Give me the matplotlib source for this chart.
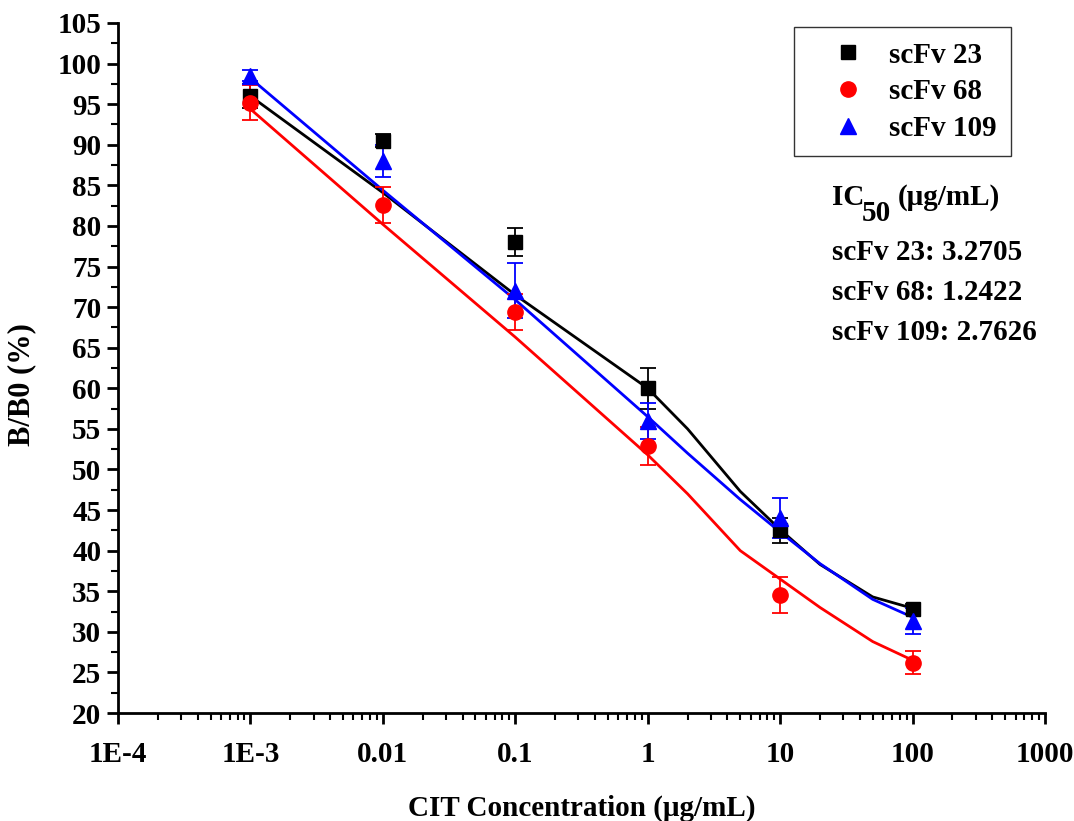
import numpy as np
import matplotlib
matplotlib.use("Agg")
import matplotlib.pyplot as plt
from matplotlib.ticker import FixedLocator, MultipleLocator, LogLocator, NullFormatter

plt.rcParams['font.family'] = ['Liberation Serif', 'DejaVu Serif']
plt.rcParams['font.weight'] = 'bold'

# measured points
conc = [1e-3, 1e-2, 1e-1, 1, 10, 100]
mean_23 = [96.0, 90.5, 78.0, 60.0, 42.5, 32.8]
err_23 = [1.5, 0.8, 1.7, 2.5, 1.5, 0.6]
mean_68 = [95.2, 82.6, 69.4, 52.9, 34.5, 26.2]
err_68 = [2.2, 2.2, 2.2, 2.3, 2.2, 1.4]
mean_109 = [98.5, 88.0, 72.0, 56.0, 44.0, 31.3]
err_109 = [0.7, 2.0, 3.4, 2.2, 2.5, 1.6]

# fitted curves
fit_x = [1e-3, 1e-2, 1e-1, 1, 2, 5, 10, 20, 50, 100]
fit_23 = [96.0, 84.1, 71.5, 60.0, 55.0, 47.3, 42.6, 38.3, 34.3, 32.9]
fit_68 = [94.4, 80.2, 66.3, 51.8, 47.0, 40.0, 36.5, 33.0, 28.8, 26.5]
fit_109 = [98.2, 84.4, 70.9, 56.5, 52.0, 46.3, 42.3, 38.4, 34.0, 31.8]

labels = ['scFv 23', 'scFv 68', 'scFv 109']
colors = ['black', 'red', 'blue']
markers = ['s', 'o', '^']
msizes = [10, 11, 12]
ic50 = ['3.2705', '1.2422', '2.7626']

fig = plt.figure(figsize=(10.74, 8.21), dpi=100)
ax = fig.add_axes([118/1074, 1-713/821, (1045-118)/1074, (713-23)/821])

series = [(mean_23, err_23, fit_23), (mean_68, err_68, fit_68), (mean_109, err_109, fit_109)]
for (m, e, f), lab, c, mk, ms in zip(series, labels, colors, markers, msizes):
    ax.plot(fit_x, f, color=c, lw=2.0, zorder=2)
    ax.errorbar(conc, m, yerr=e, fmt='none', ecolor=c, elinewidth=1.3,
                capsize=6, capthick=1.3, zorder=3)
    ax.plot(conc, m, linestyle='none', marker=mk, markersize=ms, color=c,
            label=lab, zorder=4)

ax.set_xscale('log')
ax.set_xlim(1e-4, 1000)
ax.set_ylim(20, 105)
ax.xaxis.set_major_locator(FixedLocator([1e-4, 1e-3, 1e-2, 1e-1, 1, 10, 100, 1000]))
ax.set_xticklabels(['1E-4', '1E-3', '0.01', '0.1', '1', '10', '100', '1000'])
ax.xaxis.set_minor_locator(LogLocator(base=10, subs=np.arange(2, 10), numticks=20))
ax.xaxis.set_minor_formatter(NullFormatter())
ax.yaxis.set_major_locator(MultipleLocator(5))
ax.yaxis.set_minor_locator(MultipleLocator(2.5))

for s in ['top', 'right']:
    ax.spines[s].set_visible(False)
for s in ['left', 'bottom']:
    ax.spines[s].set_linewidth(2)

ax.tick_params(which='major', direction='out', length=8, width=2, labelsize=21, pad=4)
ax.tick_params(which='minor', direction='out', length=5, width=1.5)
ax.tick_params(axis='x', which='major', pad=12)
for t in ax.get_xticklabels() + ax.get_yticklabels():
    t.set_fontweight('bold')

ax.set_xlabel('CIT Concentration (μg/mL)', fontsize=21, fontweight='bold')
ax.xaxis.set_label_coords(0.5, 1 - (808 - 23) / (713 - 23))
ax.xaxis.label.set_va('center')
ax.set_ylabel('B/B0 (%)', fontsize=22, fontweight='bold')
ax.yaxis.set_label_coords((22 - 118) / (1045 - 118), 1 - (385 - 23) / (713 - 23))
ax.yaxis.label.set_va('center')

leg = ax.legend(loc='upper right', bbox_to_anchor=(1011/1074, 1-27/821),
                bbox_transform=fig.transFigure, fontsize=21, frameon=True,
                fancybox=False, edgecolor='black', handletextpad=0.05,
                borderpad=0.5, borderaxespad=0, labelspacing=0.33,
                handlelength=2.7)
leg.get_frame().set_linewidth(1.0)
for t in leg.get_texts():
    t.set_fontweight('bold')

# IC50 block, subscript drawn as its own lowered text
fig.text(832/1074, 1-205/821, 'IC', fontsize=21, fontweight='bold', va='baseline')
fig.text(862/1074, 1-221/821, '50', fontsize=21, fontweight='bold', va='baseline')
fig.text(898/1074, 1-205/821, '(μg/mL)', fontsize=21, fontweight='bold', va='baseline')
for i, (lab, v) in enumerate(zip(labels, ic50)):
    fig.text(832/1074, 1-(252 + 40*i)/821, f'{lab}: {v}', fontsize=21,
             fontweight='bold', va='center', ha='left')

fig.savefig('out.png', dpi=100)
